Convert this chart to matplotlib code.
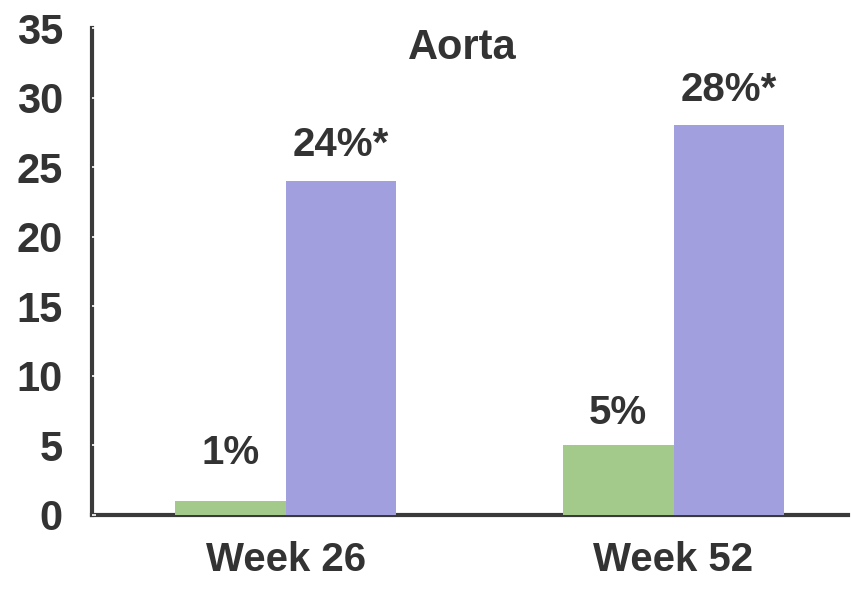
import numpy as np
import matplotlib.pyplot as plt

# Percent of animals with aortic findings, control vs treated
weeks = ["Week 26", "Week 52"]
control = [1, 5]
treated = [24, 28]
control_labels = ["1%", "5%"]
treated_labels = ["24%*", "28%*"]

GREEN = "#a3c98b"
PURPLE = "#a29fdf"
INK = "#333333"

plt.rcParams["font.family"] = ["Liberation Sans", "DejaVu Sans"]
plt.rcParams["font.weight"] = "bold"

fig = plt.figure(figsize=(8.51, 5.93), dpi=100)
ax = fig.add_axes([92 / 851, 78 / 593, 756 / 851, 487 / 593])

x = np.arange(len(weeks))
w = 0.285
b1 = ax.bar(x - w / 2, control, width=w, color=GREEN, zorder=2)
b2 = ax.bar(x + w / 2, treated, width=w, color=PURPLE, zorder=2)

# value labels above the bars (small bars get a little more room)
for rect, lab in zip(b1, control_labels):
    h = rect.get_height()
    ax.annotate(lab, (rect.get_x() + rect.get_width() / 2, h),
                xytext=(0, 21 if h < 2 else 10), textcoords="offset points",
                ha="center", va="bottom", fontsize=29, fontweight="bold", color=INK)
for rect, lab in zip(b2, treated_labels):
    ax.annotate(lab, (rect.get_x() + rect.get_width() / 2, rect.get_height()),
                xytext=(0, 12), textcoords="offset points",
                ha="center", va="bottom", fontsize=29, fontweight="bold", color=INK)

ax.set_xlim(-0.5, 1.45)
ax.set_ylim(0, 35)
ax.set_yticks(range(0, 36, 5))
ax.set_xticks(x)
ax.set_xticklabels(weeks)
ax.tick_params(axis="y", labelsize=30, labelcolor=INK, color="white",
               direction="in", length=3, width=1.2, pad=21)
ax.tick_params(axis="x", labelsize=29, labelcolor=INK, length=0, pad=19)

for s in ["top", "right"]:
    ax.spines[s].set_visible(False)
for s in ["left", "bottom"]:
    ax.spines[s].set_color("#3a3a3a")
    ax.spines[s].set_linewidth(3)
    ax.spines[s].set_zorder(1)

ax.text(0.49, 1.0, "Aorta", transform=ax.transAxes, ha="center", va="top",
        fontsize=30, fontweight="bold", color=INK)

fig.savefig("out.png", dpi=100)
